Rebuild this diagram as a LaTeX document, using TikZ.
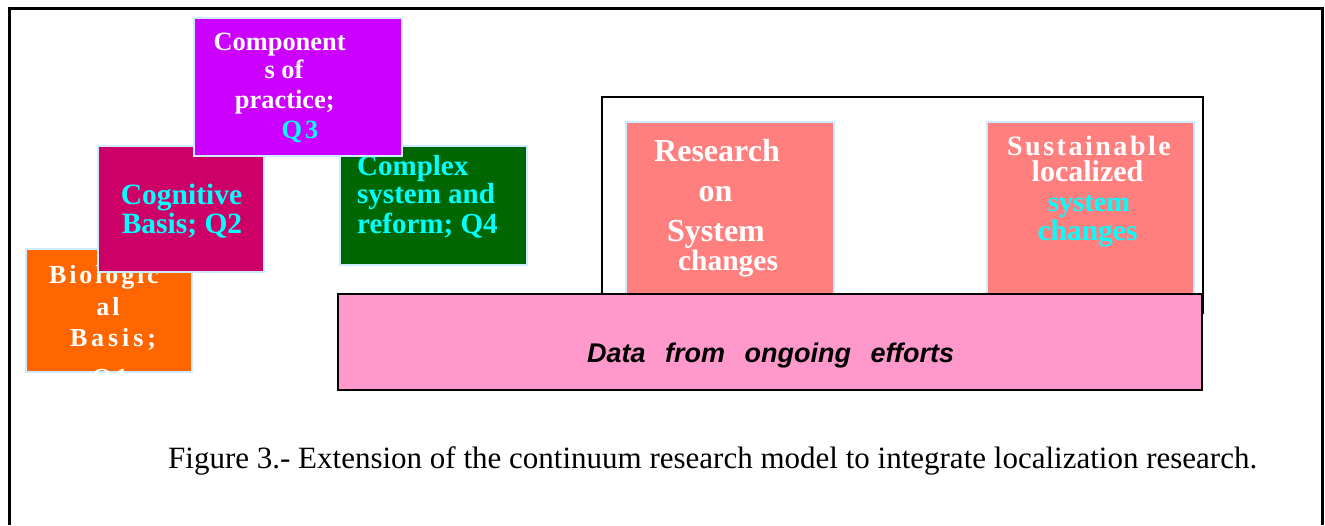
\documentclass[tikz,border=0pt]{standalone}
\usepackage{fontspec}
\setmainfont{Liberation Serif}
\newfontfamily\lsfont[LetterSpace=11]{Liberation Serif}
\newfontfamily\qsfont[LetterSpace=15]{Liberation Serif}
\newfontfamily\ssfont[LetterSpace=9]{Liberation Serif}
\newfontfamily\arialf{Liberation Sans}
\definecolor{cq1}{HTML}{FF6600}
\definecolor{cq2}{HTML}{CC0066}
\definecolor{cq3}{HTML}{CC00FF}
\definecolor{cq4}{HTML}{006600}
\definecolor{salmon}{HTML}{FF7F7F}
\definecolor{pinkd}{HTML}{FF99CC}
\definecolor{cyant}{HTML}{00FFFF}
\definecolor{lblue}{HTML}{CCECFF}
\newcommand{\fsz}[1]{\fontsize{#1}{#1}\selectfont}
\begin{document}
\begin{tikzpicture}[x=1pt,y=-1pt,
  box/.style={draw=lblue, line width=1.5pt, inner sep=0pt, anchor=north west},
  tl/.style={inner sep=0pt, anchor=base, font=\bfseries},
  tlw/.style={inner sep=0pt, anchor=base west, font=\bfseries},
  wt/.style={text=white},
  ct/.style={text=cyant}]
\useasboundingbox (0,0) rectangle (1325,525);
% outer frame (no bottom edge)
\coordinate (fbl) at (9.5,525);
\coordinate (ftl) at (9.5,8.5);
\coordinate (ftr) at (1322,8.5);
\coordinate (fbr) at (1322,525);
\draw[line width=3pt] (fbl) -- (ftl) -- (ftr) -- (fbr);

% Q1
\node[box, fill=cq1, minimum width=166pt, minimum height=123pt] (q1) at (25,248) {};
\begin{scope}
\clip (q1.north west) rectangle (q1.south east);
\node[tl, wt, font=\bfseries\lsfont\fsz{26}] (q1a) at (104,283) {Biologic};
\node[tl, wt, font=\bfseries\lsfont\fsz{26}] (q1b) at (108,315) {al};
\node[tl, wt, font=\bfseries\qsfont\fsz{26}] (q1c) at (113,346) {Basis;};
\node[tl, wt, font=\bfseries\lsfont\fsz{26}] (q1d) at (110,386) {Q1};
\end{scope}

% Q2
\node[box, fill=cq2, minimum width=166pt, minimum height=126pt] (q2) at (97,145) {};
\node[tl, ct, font=\bfseries\fsz{29.5}] (q2a) at (181.5,204) {Cognitive};
\node[tl, ct, font=\bfseries\fsz{29.5}] (q2b) at (182,233) {Basis; Q2};

% Q4
\node[box, fill=cq4, minimum width=187pt, minimum height=119pt] (q4) at (339,145) {};
\node[tlw, ct, font=\bfseries\fsz{29}] (q4a) at (357,175) {Complex};
\node[tlw, ct, font=\bfseries\fsz{29}] (q4b) at (357,203) {system and};
\node[tlw, ct, font=\bfseries\fsz{29}] (q4c) at (357,233) {reform; Q4};

% Q3
\node[box, fill=cq3, minimum width=208pt, minimum height=138pt] (q3) at (193,17) {};
\node[tl, wt, font=\bfseries\fsz{26.4}] (q3a) at (279.6,50) {Component};
\node[tl, wt, font=\bfseries\fsz{26.4}] (q3b) at (284,78.3) {s of};
\node[tl, wt, font=\bfseries\fsz{26.4}] (q3c) at (284.8,108) {practice;};
\node[tl, ct, font=\bfseries\lsfont\fsz{26.4}] (q3d) at (300,138) {Q3};

% right frame
\node[draw=black, line width=2pt, inner sep=0pt, anchor=north west, minimum width=601pt, minimum height=216pt] (fr) at (601,96) {};

% research boxes
\node[box, fill=salmon, minimum width=208pt, minimum height=174pt] (rs) at (625,121) {};
\node[tl, wt, font=\bfseries\fsz{32}] (rsa) at (717,161.7) {Research};
\node[tl, wt, font=\bfseries\fsz{32}] (rsb) at (715.5,201.7) {on};
\node[tl, wt, font=\bfseries\fsz{32}] (rsc) at (716,241.7) {System};
\node[tl, wt, font=\bfseries\fsz{29.5}] (rsd) at (728,270) {changes};

\node[box, fill=salmon, minimum width=207pt, minimum height=174pt] (su) at (986,121) {};
\node[tl, wt, font=\bfseries\ssfont\fsz{28}] (sua) at (1089,155) {Sustainable};
\node[tl, wt, font=\bfseries\fsz{30}] (sub) at (1087.5,181.7) {localized};
\node[tl, ct, font=\bfseries\fsz{28.5}] (suc) at (1089,211.7) {system};
\node[tl, ct, font=\bfseries\fsz{29.5}] (sud) at (1087.5,240) {changes};

% data box
\node[draw=black, line width=2pt, fill=pinkd, inner sep=0pt, anchor=north west, minimum width=864pt, minimum height=96pt] (db) at (337,293) {};
\node[inner sep=0pt, anchor=base west, font=\arialf\bfseries\itshape\fsz{27}] (dt) at (587,362) {Data\hspace{19.5pt}from\hspace{19.5pt}ongoing\hspace{19.5pt}efforts};

% caption
\node[inner sep=0pt, anchor=base west, font=\fsz{31}] (cap) at (168,468) {Figure 3.- Extension of the continuum research model to integrate localization research.};
\end{tikzpicture}
\end{document}
